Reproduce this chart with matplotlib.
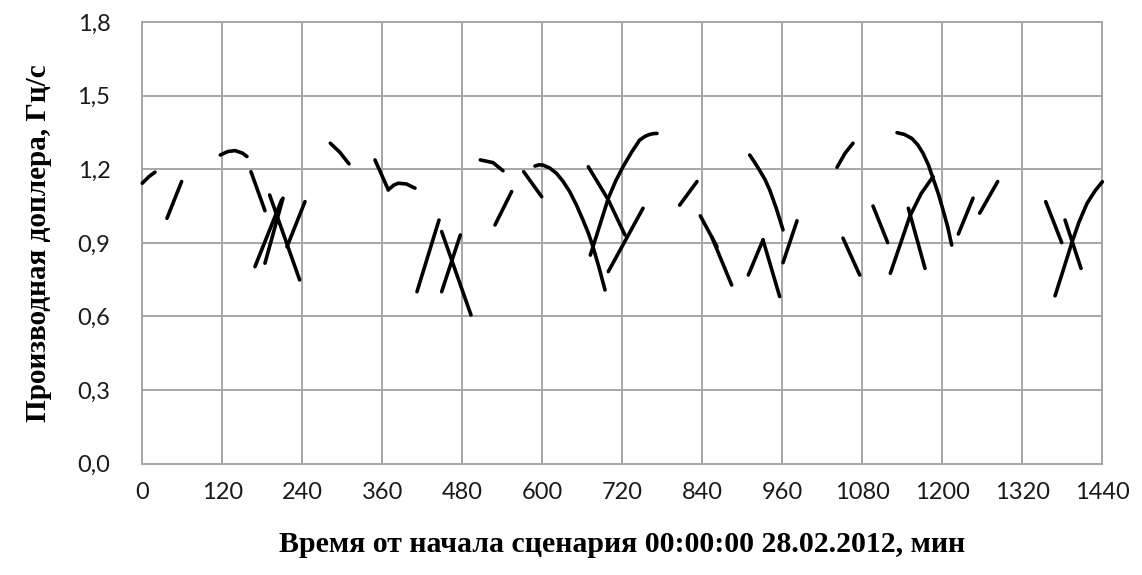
import matplotlib
matplotlib.use("Agg")
import matplotlib.pyplot as plt

# time axis, minutes from scenario start
x_ticks = [0, 120, 240, 360, 480, 600, 720, 840, 960, 1080, 1200, 1320, 1440]
y_ticks = [0.0, 0.3, 0.6, 0.9, 1.2, 1.5, 1.8]
y_tick_labels = ["0,0", "0,3", "0,6", "0,9", "1,2", "1,5", "1,8"]

x_label = "Время от начала сценария 00:00:00 28.02.2012, мин"
y_label = "Производная доплера, Гц/с"

# Doppler rate for each satellite pass: (minutes, Hz/s)
pass_t = [
    [0, 10, 19],
    [37, 59],
    [117, 128, 139, 150, 157],
    [163, 184],
    [169, 209],
    [184, 211],
    [191, 236],
    [217, 244],
    [282, 296, 310],
    [349, 369],
    [369, 377, 384, 396, 409],
    [412, 445],
    [449, 477],
    [449, 493],
    [507, 526, 541],
    [529, 554],
    [572, 599],
    [589, 595, 601, 611, 621, 631, 641, 651, 661, 669, 676, 685, 694],
    [669, 699, 724],
    [672, 686, 699, 710, 721, 734, 746, 754, 760, 766, 772],
    [699, 751],
    [806, 832],
    [837, 862],
    [854, 884],
    [909, 931],
    [931, 956],
    [911, 918, 926, 934, 941, 951, 961],
    [961, 982],
    [1042, 1054, 1066],
    [1051, 1076],
    [1096, 1118],
    [1122, 1137, 1151, 1168, 1186],
    [1149, 1174],
    [1132, 1143, 1154, 1163, 1171, 1179, 1186, 1194, 1201, 1208, 1214],
    [1224, 1246],
    [1256, 1283],
    [1355, 1379],
    [1384, 1408],
    [1369, 1382, 1394, 1405, 1417, 1429, 1440],
]
pass_v = [
    [1.143, 1.17, 1.188],
    [1.0, 1.15],
    [1.258, 1.272, 1.276, 1.266, 1.252],
    [1.19, 1.031],
    [0.803, 1.075],
    [0.817, 1.082],
    [1.095, 0.749],
    [0.884, 1.068],
    [1.306, 1.27, 1.222],
    [1.238, 1.116],
    [1.116, 1.135, 1.143, 1.14, 1.123],
    [0.701, 0.993],
    [0.701, 0.932],
    [0.946, 0.606],
    [1.238, 1.227, 1.194],
    [0.973, 1.109],
    [1.19, 1.088],
    [1.213, 1.218, 1.217, 1.205, 1.184, 1.151, 1.109, 1.055, 0.993, 0.94, 0.884, 0.8, 0.708],
    [1.21, 1.075, 0.932],
    [0.85, 0.97, 1.082, 1.152, 1.21, 1.27, 1.319, 1.334, 1.341, 1.345, 1.346],
    [0.783, 1.041],
    [1.054, 1.15],
    [1.01, 0.884],
    [0.925, 0.728],
    [0.769, 0.912],
    [0.912, 0.681],
    [1.258, 1.23, 1.195, 1.158, 1.116, 1.04, 0.953],
    [0.819, 0.99],
    [1.208, 1.265, 1.306],
    [0.919, 0.769],
    [1.05, 0.901],
    [0.776, 0.895, 1.007, 1.1, 1.17],
    [1.041, 0.796],
    [1.349, 1.342, 1.326, 1.3, 1.265, 1.218, 1.163, 1.1, 1.034, 0.965, 0.891],
    [0.936, 1.082],
    [1.021, 1.15],
    [1.068, 0.901],
    [0.993, 0.796],
    [0.684, 0.795, 0.899, 0.985, 1.061, 1.112, 1.149],
]

grid_color = "#a6a6a6"

fig = plt.figure(figsize=(11.42, 5.75), dpi=100)
ax = fig.add_axes([0.1246, 0.1936, 0.8407, 0.7681])

for t, v in zip(pass_t, pass_v):
    ax.plot(t, v, color="black", lw=2.6, solid_capstyle="round",
            solid_joinstyle="round", clip_on=False, zorder=3)

ax.set_xlim(0, 1440)
ax.set_ylim(0, 1.8)
ax.set_xticks(x_ticks)
ax.set_yticks(y_ticks)
ax.set_yticklabels(y_tick_labels)
ax.grid(True, color=grid_color, lw=1.4)
ax.set_axisbelow(True)
for sp in ax.spines.values():
    sp.set_color(grid_color)
    sp.set_linewidth(1.4)
ax.tick_params(length=0, labelsize=17, labelcolor="#1a1a1a")
ax.tick_params(axis="x", pad=13)
ax.tick_params(axis="y", pad=23)
for lab in ax.get_xticklabels() + ax.get_yticklabels():
    lab.set_family(["Lato", "DejaVu Sans"])

ax.set_xlabel(x_label, family="Liberation Serif", weight="bold",
              fontsize=21.5, labelpad=20)
ax.set_ylabel(y_label, family="Liberation Serif", weight="bold",
              fontsize=21, labelpad=18)

fig.savefig("out.png", dpi=100)
